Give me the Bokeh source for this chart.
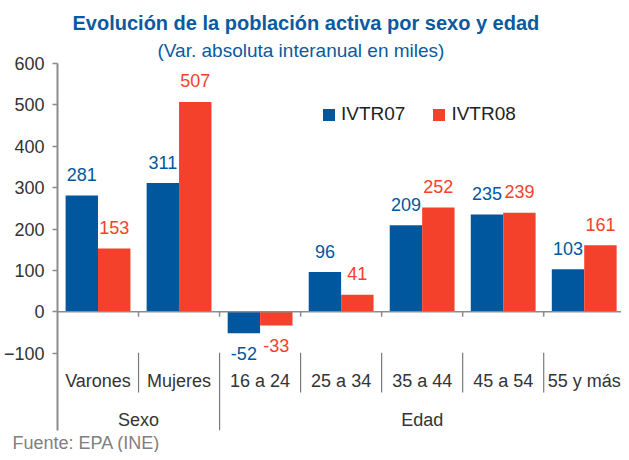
from bokeh.plotting import figure
from bokeh.models import ColumnDataSource, Range1d, FixedTicker, Title, Legend, LegendItem
from bokeh.embed import file_html
from bokeh.resources import INLINE
from bokeh.core.properties import value

# ---------------- data ----------------
categories = ["Varones", "Mujeres", "16 a 24", "25 a 34", "35 a 44", "45 a 54", "55 y más"]
groups = ["Sexo", "Edad"]
group_sizes = [2, 5]
ivtr07 = [281, 311, -52, 96, 209, 235, 103]
ivtr08 = [153, 507, -33, 41, 252, 239, 161]
series_names = ["IVTR07", "IVTR08"]
y_ticks = [-100, 0, 100, 200, 300, 400, 500, 600]
title_text = "Evolución de la población activa por sexo y edad"
subtitle_text = "(Var. absoluta interanual en miles)"
source_text = "Fuente: EPA (INE)"

# ---------------- style ----------------
FONT = "Liberation Sans"
BLUE = "#00579E"
RED = "#F4412B"
TITLE_BLUE = "#0B5A9E"
AXIS_GRAY = "#8c8c8c"
SEP_GRAY = "#7a7a7a"
TEXT_DARK = "#333333"
SHIFT = -6  # screen-pixel correction for text baseline

Y_MIN, Y_MAX = -287, 600
n = len(categories)

p = figure(width=621, height=452,
           x_range=Range1d(0, n - 0.04), y_range=Range1d(Y_MIN, Y_MAX),
           output_backend="svg", toolbar_location=None,
           min_border_left=57, min_border_right=0,
           min_border_top=63, min_border_bottom=21)
p.xaxis.visible = False
p.xgrid.visible = False
p.ygrid.visible = False
p.outline_line_color = None
p.background_fill_color = "white"
p.border_fill_color = "white"

ya = p.yaxis[0]
ya.ticker = FixedTicker(ticks=y_ticks)
ya.minor_tick_line_color = None
ya.major_tick_out = 5
ya.major_tick_in = 0
ya.axis_line_color = AXIS_GRAY
ya.axis_line_width = 2
ya.major_tick_line_color = AXIS_GRAY
ya.major_tick_line_width = 1.5
ya.major_label_text_font = FONT
ya.major_label_text_font_size = "18px"
ya.major_label_text_color = TEXT_DARK
ya.major_label_standoff = 8

# ---------------- bars ----------------
bar_w = 0.4
src07 = ColumnDataSource(dict(x=[i + 0.3 for i in range(n)], top=ivtr07))
src08 = ColumnDataSource(dict(x=[i + 0.7 for i in range(n)], top=ivtr08))
r07 = p.vbar(x="x", top="top", bottom=0, width=bar_w, source=src07,
             fill_color=BLUE, line_color=None)
r08 = p.vbar(x="x", top="top", bottom=0, width=bar_w, source=src08,
             fill_color=RED, line_color=None)

# zero line and boundary ticks
p.segment(x0=[0], y0=[0], x1=[n], y1=[0], line_color=AXIS_GRAY, line_width=1.5)
p.segment(x0=list(range(1, n)), y0=[0] * (n - 1), x1=list(range(1, n)), y1=[-12] * (n - 1),
          line_color=AXIS_GRAY, line_width=1.5)

# ---------------- value labels ----------------
def add_labels(xs, vals, color):
    pos = [(x, v) for x, v in zip(xs, vals) if v >= 0]
    neg = [(x, v) for x, v in zip(xs, vals) if v < 0]
    for items, off in ((pos, -15), (neg, 26)):
        if not items:
            continue
        p.text(x=[a for a, _ in items], y=[b for _, b in items],
               text=[str(b) for _, b in items],
               text_font=value(FONT), text_font_size="18px", text_color=color,
               text_align="center", text_baseline="alphabetic", y_offset=off + SHIFT)

add_labels([i + 0.3 for i in range(n)], ivtr07, BLUE)
add_labels([i + 0.7 for i in range(n)], ivtr08, RED)

# ---------------- category axis (multi-level) ----------------
group_bounds = []
acc = 0
for s in group_sizes:
    acc += s
    group_bounds.append(acc)
cat_seps = [k for k in range(1, n) if k not in group_bounds]
grp_seps = [k for k in group_bounds if 0 < k < n]

p.segment(x0=cat_seps, y0=[-99] * len(cat_seps), x1=cat_seps, y1=[-195] * len(cat_seps),
          line_color=SEP_GRAY, line_width=1.2)
p.segment(x0=grp_seps, y0=[-99] * len(grp_seps), x1=grp_seps, y1=[Y_MIN] * len(grp_seps),
          line_color=SEP_GRAY, line_width=1.2)

p.text(x=[i + 0.5 for i in range(n)], y=[-181] * n, text=categories,
       text_font=value(FONT), text_font_size="18px", text_color=TEXT_DARK,
       text_align="center", text_baseline="alphabetic", y_offset=SHIFT)

gx = []
start = 0
for s in group_sizes:
    gx.append(start + s / 2)
    start += s
p.text(x=gx, y=[-277] * len(gx), text=groups,
       text_font=value(FONT), text_font_size="18px", text_color=TEXT_DARK,
       text_align="center", text_baseline="alphabetic", y_offset=SHIFT)

# ---------------- legend ----------------
legend = Legend(items=[LegendItem(label=series_names[0], renderers=[r07]),
                       LegendItem(label=series_names[1], renderers=[r08])],
                orientation="horizontal", location=(264, 305),
                glyph_width=15, glyph_height=15, label_standoff=5, spacing=26,
                padding=0, margin=0, border_line_color=None,
                background_fill_alpha=0,
                label_text_font=FONT, label_text_font_size="19px",
                label_text_color="#222222", label_height=15)
p.add_layout(legend, "center")

# ---------------- titles ----------------
sub = Title(text=subtitle_text, align="left", offset=100, standoff=5,
            text_font=FONT, text_font_size="19px", text_font_style="normal",
            text_color=TITLE_BLUE)
ttl = Title(text=title_text, align="left", offset=15, standoff=4,
            text_font=FONT, text_font_size="20px", text_font_style="bold",
            text_color=TITLE_BLUE)
p.add_layout(sub, "above")
p.add_layout(ttl, "above")

src_note = Title(text=source_text, align="left", offset=-45, standoff=0,
                 text_font=FONT, text_font_size="18px", text_font_style="normal",
                 text_color="#808080")
p.add_layout(src_note, "below")

open("out.html", "w").write(file_html(p, INLINE))
